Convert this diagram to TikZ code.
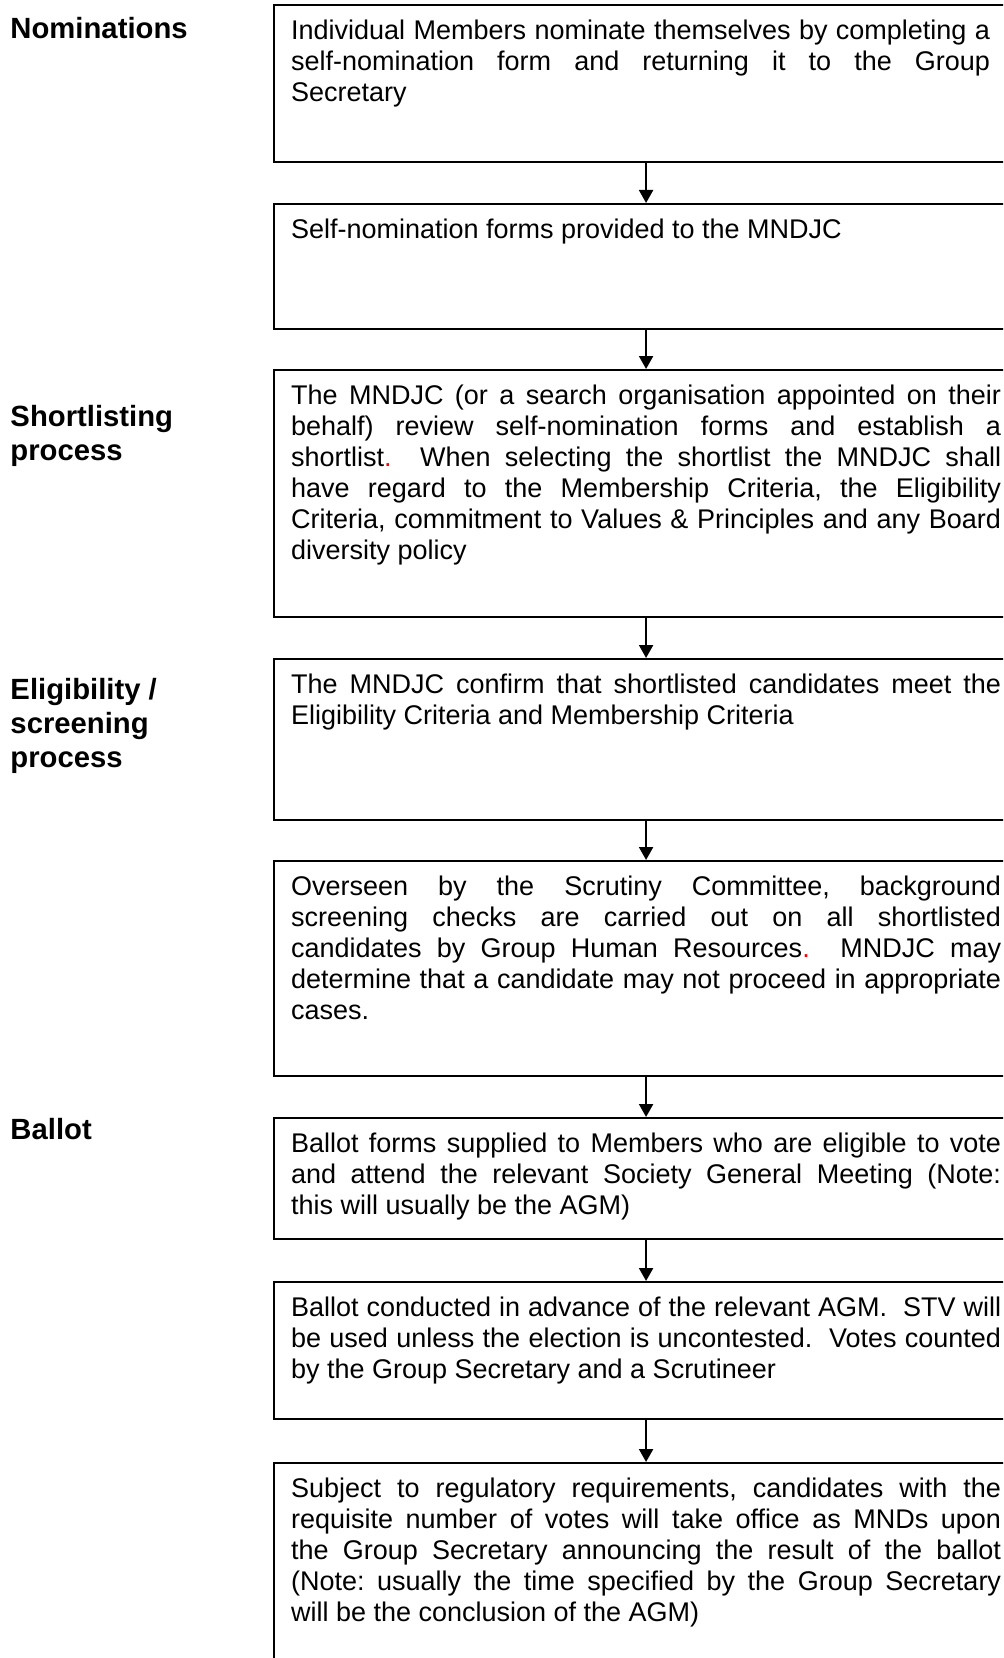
\documentclass[tikz,border=0pt]{standalone}
\usepackage{fontspec}
\setmainfont{Liberation Sans}
\usetikzlibrary{arrows.meta}
\tikzset{
    stage/.style={draw, line width=0.85pt, anchor=north west,
                  inner xsep=6.8pt, inner ysep=0pt,
                  font=\fontsize{10.8}{12.4}\selectfont},
    phase/.style={anchor=north west, inner sep=0pt, align=left,
                  font=\fontsize{11.7}{13.6}\selectfont\bfseries},
    flow/.style={-{Triangle[length=5.2pt, width=5.6pt]}, line width=0.85pt},
}
\newcommand{\stagetext}[2]{\parbox[c][#1][t]{284pt}{\frenchspacing
    \hyphenpenalty=10000\exhyphenpenalty=10000\rule{0pt}{13.6pt}#2}}
\newcommand{\reddot}{\textcolor{red}{.}}

\begin{document}
\begin{tikzpicture}[x=0.4pt, y=-0.4pt]

    \useasboundingbox (0,0) rectangle (1003,1658);
    \clip (0,0) rectangle (1003,1658);

    % phases on the left
    \node[phase] (lnom) at (10,13) {\rule{0pt}{10pt}Nominations};
    \node[phase] (lshort) at (10,401) {\rule{0pt}{10pt}Shortlisting\\process};
    \node[phase] (lelig) at (10,674) {\rule{0pt}{10pt}Eligibility /\\screening\\process};
    \node[phase] (lballot) at (10,1114) {\rule{0pt}{10pt}Ballot};

    % stages
    \node[stage] (nominate) at (273,4) {\stagetext{62.8pt}{\rightskip=4.4pt
        Individual Members nominate themselves by completing a\linebreak
        self-nomination form and returning it to the Group\linebreak
        Secretary}};
    \node[stage] (forms) at (273,203) {\stagetext{50pt}{%
        Self-nomination forms provided to the MNDJC}};
    \node[stage] (shortlist) at (273,369) {\stagetext{98.8pt}{%
        The MNDJC (or a search organisation appointed on their\linebreak
        behalf) review self-nomination forms and establish a\linebreak
        shortlist\reddot\ \ When selecting the shortlist the MNDJC shall\linebreak
        have regard to the Membership Criteria, the Eligibility\linebreak
        Criteria, commitment to Values \& Principles and any Board\linebreak
        diversity policy}};
    \node[stage] (confirm) at (273,658) {\stagetext{64.4pt}{%
        The MNDJC confirm that shortlisted candidates meet the\linebreak
        Eligibility Criteria and Membership Criteria}};
    \node[stage] (screen) at (273,860) {\stagetext{86pt}{%
        Overseen by the Scrutiny Committee, background\linebreak
        screening checks are carried out on all shortlisted\linebreak
        candidates by Group Human Resources\reddot\ \ MNDJC may\linebreak
        determine that a candidate may not proceed in appropriate\linebreak
        cases.}};
    \node[stage] (ballotforms) at (273,1117) {\stagetext{48.4pt}{%
        Ballot forms supplied to Members who are eligible to vote\linebreak
        and attend the relevant Society General Meeting (Note:\linebreak
        this will usually be the AGM)}};
    \node[stage] (conduct) at (273,1281) {\stagetext{54.8pt}{%
        Ballot conducted in advance of the relevant AGM.\ \ STV will\linebreak
        be used unless the election is uncontested.\ \ Votes counted\linebreak
        by the Group Secretary and a Scrutineer}};
    \node[stage] (office) at (273,1462) {\stagetext{95.2pt}{%
        Subject to regulatory requirements, candidates with the\linebreak
        requisite number of votes will take office as MNDs upon\linebreak
        the Group Secretary announcing the result of the ballot\linebreak
        (Note: usually the time specified by the Group Secretary\linebreak
        will be the conclusion of the AGM)}};

    \draw[flow] (nominate) -- (forms);
    \draw[flow] (forms) -- (shortlist);
    \draw[flow] (shortlist) -- (confirm);
    \draw[flow] (confirm) -- (screen);
    \draw[flow] (screen) -- (ballotforms);
    \draw[flow] (ballotforms) -- (conduct);
    \draw[flow] (conduct) -- (office);

\end{tikzpicture}
\end{document}
